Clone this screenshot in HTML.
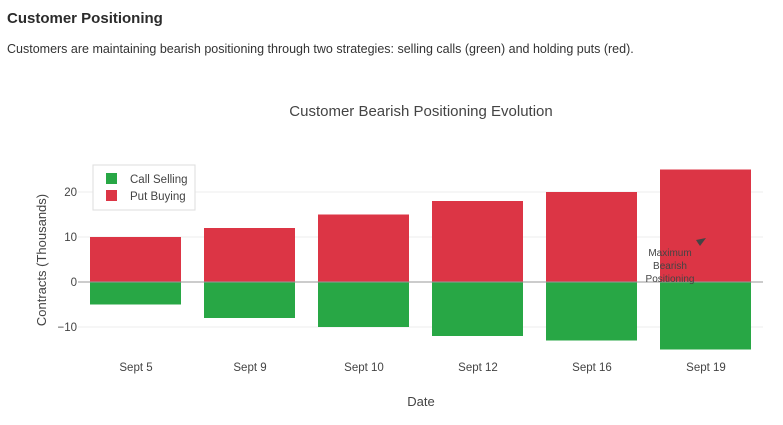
<!DOCTYPE html>
<html><head><style>
body{margin:0;width:783px;height:425px;background:#fff;font-family:"Liberation Sans",sans-serif;overflow:hidden}
</style></head><body>
<svg width="783" height="425" xmlns="http://www.w3.org/2000/svg" style="position:absolute;left:0;top:0">
<text x="7" y="23" font-size="15" font-weight="bold" fill="#2b2b2b">Customer Positioning</text>
<text x="7" y="53" font-size="12.5" fill="#333">Customers are maintaining bearish positioning through two strategies: selling calls (green) and holding puts (red).</text>
<text x="421" y="116" font-size="15" fill="#444" text-anchor="middle">Customer Bearish Positioning Evolution</text>
<g stroke="#eee" stroke-width="1">
<line x1="78" x2="763" y1="192" y2="192"/><line x1="78" x2="763" y1="237" y2="237"/><line x1="78" x2="763" y1="327" y2="327"/>
</g>
<g fill="#dc3545">
<rect x="90" y="237" width="91" height="45"/><rect x="204" y="228" width="91" height="54"/><rect x="318" y="214.5" width="91" height="67.5"/>
<rect x="432" y="201" width="91" height="81"/><rect x="546" y="192" width="91" height="90"/><rect x="660" y="169.5" width="91" height="112.5"/>
</g>
<g fill="#28a745">
<rect x="90" y="282" width="91" height="22.5"/><rect x="204" y="282" width="91" height="36"/><rect x="318" y="282" width="91" height="45"/>
<rect x="432" y="282" width="91" height="54"/><rect x="546" y="282" width="91" height="58.5"/><rect x="660" y="282" width="91" height="67.5"/>
</g>
<line x1="78" x2="763" y1="282" y2="282" stroke="#999" stroke-width="1"/>
<g font-size="11.5" fill="#444" text-anchor="end">
<text x="77" y="196">20</text><text x="77" y="241">10</text><text x="77" y="286">0</text><text x="77" y="331">−10</text>
</g>
<g font-size="11.5" fill="#444" text-anchor="middle">
<text x="136" y="371">Sept 5</text><text x="250" y="371">Sept 9</text><text x="364" y="371">Sept 10</text>
<text x="478" y="371">Sept 12</text><text x="592" y="371">Sept 16</text><text x="706" y="371">Sept 19</text>
</g>
<text x="421" y="406" font-size="13" fill="#444" text-anchor="middle">Date</text>
<text transform="translate(46,260) rotate(-90)" font-size="13" fill="#444" text-anchor="middle">Contracts (Thousands)</text>
<rect x="93" y="165" width="102" height="45" fill="#fff" stroke="#ddd"/>
<rect x="106" y="173" width="11" height="11" fill="#28a745"/><text x="130" y="183" font-size="11.5" fill="#444">Call Selling</text>
<rect x="106" y="190" width="11" height="11" fill="#dc3545"/><text x="130" y="200" font-size="11.5" fill="#444">Put Buying</text>
<g font-size="10" fill="#444" text-anchor="middle">
<text x="670" y="256">Maximum</text><text x="670" y="269">Bearish</text><text x="670" y="282">Positioning</text>
</g>
<line x1="698" y1="243" x2="703" y2="240" stroke="#444" stroke-width="1.5"/>
<polygon points="706,238 696,240 700,246" fill="#444"/>
</svg>
</body></html>
